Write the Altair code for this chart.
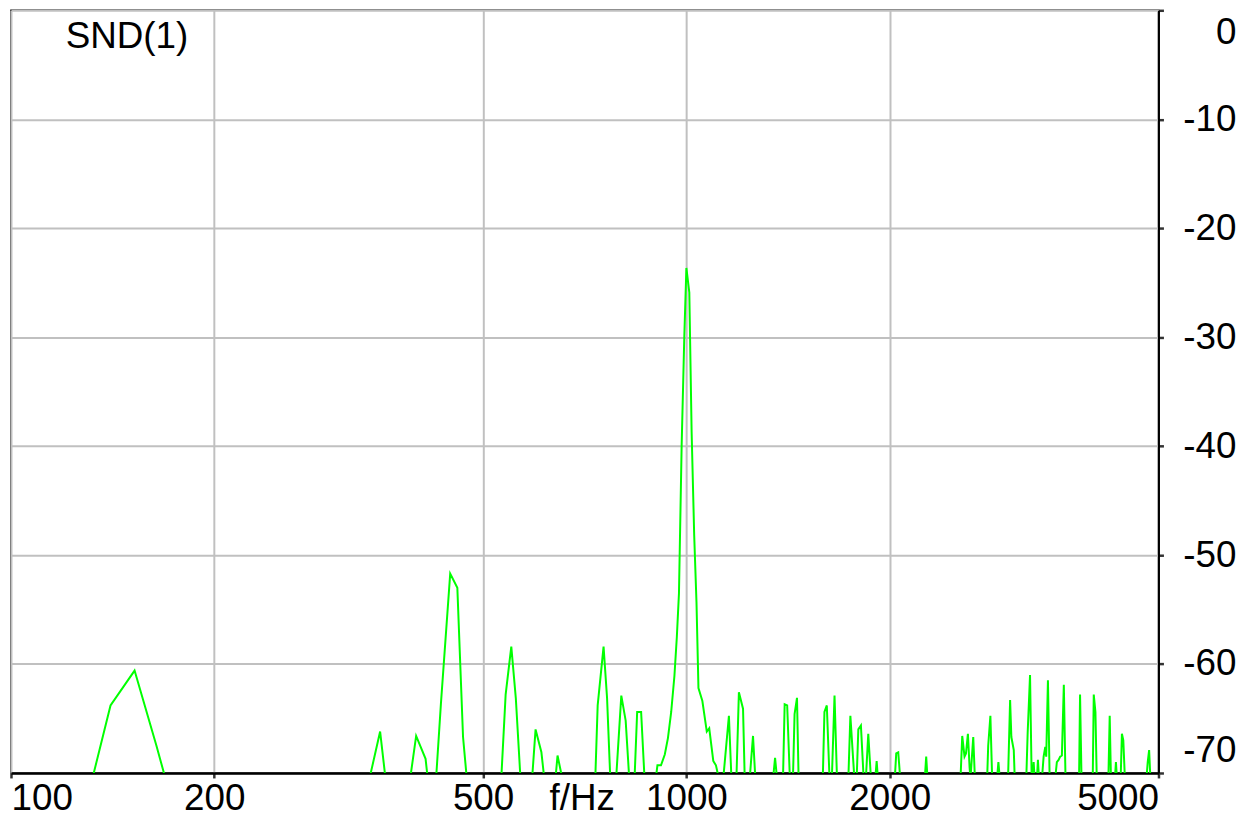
import altair as alt
import pandas as pd

F = -70.5  # level below the visible floor (line is clipped there)

freq = [
    132, 140.4, 152.4, 164.2, 169.3,
    339.5, 352, 358.5,
    390, 398, 411, 414,
    426, 433, 447, 458, 467, 473,
    532, 540, 550.5, 559, 568,
    591, 598, 610, 616,
    640, 644.5, 655,
    733, 739, 754, 763, 771.5,
    787, 801, 813, 823,
    838, 845.5, 857, 867,
    901, 906, 917, 929, 939, 949.5, 960, 968, 975, 984, 993, 1000, 1010, 1018,
    1027, 1035, 1042, 1056, 1072, 1081, 1096, 1106, 1117,
    1134, 1156, 1166,
    1186, 1196, 1213, 1220,
    1241, 1255, 1265,
    1344, 1353, 1362,
    1390, 1398, 1410, 1423,
    1438, 1446, 1458, 1466,
    1592, 1601, 1614, 1629,
    1642, 1657, 1671,
    1737, 1749, 1773,
    1787, 1797, 1813, 1830,
    1844, 1859, 1876,
    1904, 1913, 1921,
    2035, 2045, 2059, 2073,
    2254, 2265, 2275,
    2546, 2561, 2581, 2594, 2611, 2626, 2634, 2659, 2674,
    2788, 2798, 2819, 2836,
    2884, 2897, 2911,
    2994, 3015, 3028, 3053, 3063,
    3186, 3201, 3227, 3245,
    3256, 3267, 3278,
    3304, 3315, 3327,
    3361, 3380, 3399, 3410, 3430, 3450,
    3516, 3536, 3557, 3576, 3597, 3621, 3642,
    3814, 3827, 3846,
    3996, 4010, 4033, 4051,
    4215, 4234, 4252,
    4310, 4325, 4340,
    4395, 4414, 4435, 4459,
    4799, 4820, 4843, 4864,
]

level = [
    F, -63.8, -60.6, -67.5, F,
    F, -66.2, F,
    F, -66.6, -68.7, F,
    F, -63.7, -51.7, -53.0, -66.7, F,
    F, -62.8, -58.4, -63.1, F,
    F, -66.0, -68.1, F,
    F, -68.4, F,
    F, -63.8, -58.4, -63.1, F,
    F, -62.9, -65.2, F,
    F, -64.4, -64.4, F,
    F, -69.3, -69.3, -68.3, -66.8, -64.4, -61.1, -57.5, -53.5, -39.9, -29.85, -23.65, -25.9, -38.7,
    -48.2, -54.3, -62.2, -63.4, -66.2, -65.9, -68.9, -69.3, F,
    F, -64.75, F,
    F, -62.6, -64.1, F,
    F, -66.6, F,
    F, -68.6, F,
    F, -63.7, -63.8, F,
    F, -64.6, -63.1, F,
    F, -64.4, -63.8, F,
    F, -62.9, F,
    F, -64.75, F,
    F, -66.0, -65.65, F,
    F, -66.4, F,
    F, -68.9, F,
    F, -68.2, -68.1, F,
    F, -68.5, F,
    F, -66.6, -68.5, -68.2, -66.4, -69.5, F, -66.7, F,
    F, -67.5, -64.75, F,
    F, -69.0, F,
    F, -63.3, -66.7, -67.9, F,
    F, -66.3, -61.0, F,
    F, -69.0, F,
    F, -68.8, F,
    F, -68.5, -67.6, -68.5, -61.5, F,
    F, -69.0, -68.8, -68.5, -68.4, -61.9, F,
    F, -62.8, F,
    F, -62.8, -64.4, F,
    F, -64.75, F,
    F, -69.0, F,
    F, -66.4, -67.0, F,
    F, -69.0, -67.9, F,
]

x_ticks = [100, 200, 500, 1000, 2000, 5000]
y_ticks = [0, -10, -20, -30, -40, -50, -60, -70]
channel_label = ["SND(1)"]

df = pd.DataFrame({"freq": freq, "level": level})
lab = pd.DataFrame({"label": channel_label})

FONT = "Liberation Sans"

line = alt.Chart(df).mark_line(
    clip=True, color="#00ff00", strokeWidth=2, interpolate="linear"
).encode(
    x=alt.X(
        "freq:Q",
        scale=alt.Scale(type="log", domain=[100, 5000], nice=False),
        axis=alt.Axis(
            values=x_ticks,
            format="d",
            labelFlush=True,
            labelBaseline="alphabetic",
            labelPadding=32,
            labelFontSize=37,
            tickSize=5,
            domainWidth=2.5,
            title="f/Hz",
            titleX=574,
            titleY=37,
            titleAlign="center",
            titleBaseline="alphabetic",
            titleFontSize=37,
            titleFontWeight="normal",
            titleFont=FONT,
            titleColor="black",
        ),
    ),
    y=alt.Y(
        "level:Q",
        scale=alt.Scale(domain=[-70, 0], nice=False),
        axis=alt.Axis(
            orient="right",
            values=y_ticks,
            labelExpr="'' + datum.value",
            labelAlign="right",
            labelPadding=73,
            labelFontSize=37,
            labelFlush=True,
            labelFlushOffset=-4,
            tickSize=5,
            domainWidth=2,
            title="",
        ),
    ),
)

text = alt.Chart(lab).mark_text(
    align="left", baseline="alphabetic", fontSize=37, font=FONT, color="black"
).encode(
    text="label:N",
    x=alt.value(55),
    y=alt.value(38),
)

chart = alt.layer(line, text).properties(
    width=1154,
    height=767,
    autosize="none",
    padding={"left": 3, "top": 0, "right": 85, "bottom": 50},
    background="white",
).configure_view(
    stroke="black", strokeWidth=1.5
).configure_axis(
    grid=True,
    gridColor="#c0c0c0",
    gridWidth=2,
    domainColor="black",
    tickColor="#333333",
    tickWidth=2.5,
    labelFont=FONT,
    labelColor="black",
)

chart.save("out.html", embed_options={"renderer": "svg", "actions": False})
